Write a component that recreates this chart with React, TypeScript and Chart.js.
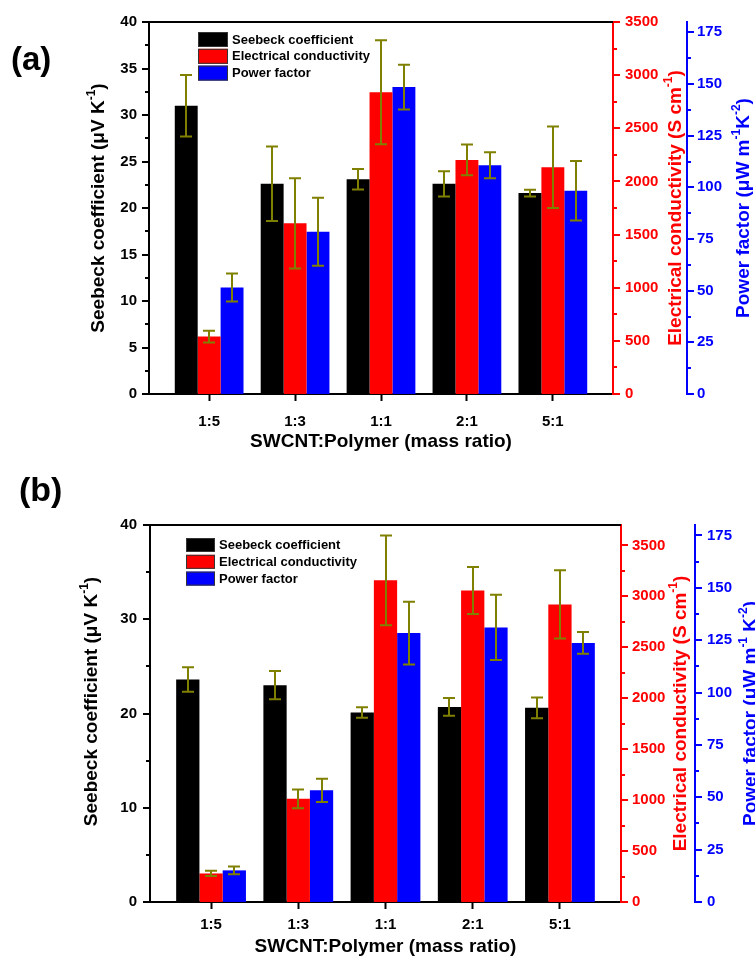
import React, { useEffect, useRef } from "react";
import { Chart, registerables } from "chart.js";

Chart.register(...registerables);

// ---------- data ----------
const categories = ["1:5", "1:3", "1:1", "2:1", "5:1"];
const seriesLabels = ["Seebeck coefficient", "Electrical conductivity", "Power factor"];

// panel (a)
const seebeckA = [31.0, 22.6, 23.1, 22.6, 21.6];
const seebeckErrA = [3.3, 4.0, 1.1, 1.35, 0.35];
const conductivityA = [540, 1606, 2839, 2202, 2133];
const conductivityErrA = [55, 425, 490, 145, 383];
const powerFactorA = [51.5, 78.5, 148.5, 110.7, 98.4];
const powerFactorErrA = [6.8, 16.4, 10.8, 6.3, 14.4];

// panel (b)
const seebeckB = [23.6, 23.0, 20.1, 20.7, 20.6];
const seebeckErrB = [1.3, 1.5, 0.55, 0.95, 1.1];
const conductivityB = [280, 1013, 3157, 3057, 2920];
const conductivityErrB = [26, 92, 440, 230, 335];
const powerFactorB = [15.1, 53.3, 128.4, 131.1, 123.7];
const powerFactorErrB = [1.9, 5.6, 15.0, 15.6, 5.2];

// axis ranges / tick steps
const seebeckAxisA = { max: 40, step: 2.5, labelEvery: 5 };
const seebeckAxisB = { max: 40, step: 5, labelEvery: 10 };
const condAxisA = { max: 3500, step: 250, labelEvery: 500 };
const condAxisB = { max: 3700, step: 250, labelEvery: 500 };
const pfAxis = { max: 180, step: 12.5, labelEvery: 25 };

const xTitle = "SWCNT:Polymer (mass ratio)";

// ---------- styles ----------
const FONT = '"Liberation Sans", Arial, Helvetica, sans-serif';
const BLACK = "#000000";
const RED = "#ff0000";
const BLUE = "#0000ff";
const ERR = "#808000";
const TITLE_SIZE = 19;
const TICK_SIZE = 15;
const LEGEND_SIZE = 13;

type Seg = { t: string; sup?: boolean };
type AxisSpec = { max: number; step: number; labelEvery: number };

type PanelSpec = {
  seebeck: number[]; seebeckErr: number[];
  cond: number[]; condErr: number[];
  pf: number[]; pfErr: number[];
  leftAxis: AxisSpec; redAxis: AxisSpec; blueAxis: AxisSpec;
  w: number; h: number;
  padTop: number; leftW: number; redW: number; blueW: number; xAxisH: number;
  xTickPad: number; xTitlePad: number;
  leftPad: number; redPad: number; bluePad: number;
  leftTitleX: number; leftTitleDy: number; redTitleX: number; blueTitleX: number;
  blueTitle: Seg[];
  legend: { x: number; y: number; bw: number; bh: number; pitch: number; tx: number };
};

const leftTitle: Seg[] = [{ t: "Seebeck coefficient (\u03bcV K" }, { t: "-1", sup: true }, { t: ")" }];
const redTitle: Seg[] = [{ t: "Electrical conductivity (S cm" }, { t: "-1", sup: true }, { t: ")" }];
const blueTitleA: Seg[] = [{ t: "Power factor (\u03bcW m" }, { t: "-1", sup: true }, { t: "K" }, { t: "-2", sup: true }, { t: ")" }];
const blueTitleB: Seg[] = [{ t: "Power factor (\u03bcW m" }, { t: "-1", sup: true }, { t: " K" }, { t: "-2", sup: true }, { t: ")" }];

const panelA: PanelSpec = {
  seebeck: seebeckA, seebeckErr: seebeckErrA,
  cond: conductivityA, condErr: conductivityErrA,
  pf: powerFactorA, pfErr: powerFactorErrA,
  leftAxis: seebeckAxisA, redAxis: condAxisA, blueAxis: pfAxis,
  w: 755, h: 460,
  padTop: 22, leftW: 149, redW: 74, blueW: 68, xAxisH: 66,
  xTickPad: 12, xTitlePad: 7,
  leftPad: 12, redPad: 12, bluePad: 10,
  leftTitleX: 99, leftTitleDy: 0, redTitleX: 676, blueTitleX: 744,
  blueTitle: blueTitleA,
  legend: { x: 198, y: 32, bw: 30, bh: 15, pitch: 16.8, tx: 232 },
};

const panelB: PanelSpec = {
  seebeck: seebeckB, seebeckErr: seebeckErrB,
  cond: conductivityB, condErr: conductivityErrB,
  pf: powerFactorB, pfErr: powerFactorErrB,
  leftAxis: seebeckAxisB, redAxis: condAxisB, blueAxis: pfAxis,
  w: 775, h: 500,
  padTop: 55, leftW: 150, redW: 74, blueW: 80, xAxisH: 68,
  xTickPad: 7, xTitlePad: 12,
  leftPad: 13, redPad: 11, bluePad: 12,
  leftTitleX: 92, leftTitleDy: -12, redTitleX: 681, blueTitleX: 751,
  blueTitle: blueTitleB,
  legend: { x: 186, y: 68, bw: 29, bh: 14, pitch: 16.8, tx: 219 },
};

function labelCb(every: number) {
  return (v: number | string) => {
    const n = Number(v);
    return Math.abs(n / every - Math.round(n / every)) < 1e-6 ? String(Math.round(n)) : "";
  };
}

function drawRich(ctx: CanvasRenderingContext2D, segs: Seg[], cx: number, cy: number, size: number, color: string) {
  const base = `bold ${size}px ${FONT}`;
  const sup = `bold ${Math.round(size * 0.62)}px ${FONT}`;
  let total = 0;
  const widths = segs.map((s) => {
    ctx.font = s.sup ? sup : base;
    const w = ctx.measureText(s.t).width;
    total += w;
    return w;
  });
  ctx.save();
  ctx.translate(cx, cy);
  ctx.rotate(-Math.PI / 2);
  ctx.fillStyle = color;
  ctx.textBaseline = "middle";
  ctx.textAlign = "left";
  let x = -total / 2;
  segs.forEach((s, i) => {
    ctx.font = s.sup ? sup : base;
    ctx.fillText(s.t, x, s.sup ? -size * 0.36 : 0);
    x += widths[i];
  });
  ctx.restore();
}

function makeChart(canvas: HTMLCanvasElement, p: PanelSpec) {
  const pts = (vals: number[]) => vals.map((v, i) => ({ x: i + 1, y: v }));
  const tickFont = { family: FONT, size: TICK_SIZE, weight: "bold" as const };

  const errorBars = {
    id: "errorBars",
    afterDatasetsDraw(chart: any) {
      const ctx = chart.ctx as CanvasRenderingContext2D;
      ctx.save();
      ctx.strokeStyle = ERR;
      ctx.lineWidth = 2;
      chart.data.datasets.forEach((ds: any, i: number) => {
        const meta = chart.getDatasetMeta(i);
        const ys = chart.scales[ds.yAxisID];
        meta.data.forEach((el: any, j: number) => {
          const v = ds.data[j].y;
          const e = ds.errors[j];
          const x = Math.round(el.x);
          const yt = ys.getPixelForValue(v + e);
          const yb = ys.getPixelForValue(v - e);
          ctx.beginPath();
          ctx.moveTo(x, yt);
          ctx.lineTo(x, yb);
          ctx.moveTo(x - 6, yt);
          ctx.lineTo(x + 6, yt);
          ctx.moveTo(x - 6, yb);
          ctx.lineTo(x + 6, yb);
          ctx.stroke();
        });
      });
      ctx.restore();
    },
  };

  const decorations = {
    id: "decorations",
    afterDraw(chart: any) {
      const ctx = chart.ctx as CanvasRenderingContext2D;
      const area = chart.chartArea;
      // top frame line
      ctx.save();
      ctx.strokeStyle = BLACK;
      ctx.lineWidth = 2;
      ctx.beginPath();
      ctx.moveTo(area.left, area.top);
      ctx.lineTo(area.right, area.top);
      ctx.stroke();
      ctx.restore();
      // y tick marks (major long, minor short)
      ["y", "y1", "y2"].forEach((id) => {
        const s = chart.scales[id];
        if (!s) return;
        const left = s.position === "left";
        const x0 = left ? s.right : s.left;
        const dir = left ? -1 : 1;
        ctx.save();
        ctx.strokeStyle = s.options.border.color;
        ctx.lineWidth = 2;
        s.ticks.forEach((t: any) => {
          const y = Math.round(s.getPixelForValue(t.value));
          const len = t.label === "" ? 4 : 7;
          ctx.beginPath();
          ctx.moveTo(x0, y);
          ctx.lineTo(x0 + dir * len, y);
          ctx.stroke();
        });
        ctx.restore();
      });
      // vertical axis titles
      const cy = (area.top + area.bottom) / 2;
      drawRich(ctx, leftTitle, p.leftTitleX, cy + p.leftTitleDy, TITLE_SIZE, BLACK);
      drawRich(ctx, redTitle, p.redTitleX, cy, TITLE_SIZE, RED);
      drawRich(ctx, p.blueTitle, p.blueTitleX, cy, TITLE_SIZE, BLUE);
      // legend
      const L = p.legend;
      ctx.save();
      ctx.font = `bold ${LEGEND_SIZE}px ${FONT}`;
      ctx.textBaseline = "middle";
      ctx.textAlign = "left";
      chart.data.datasets.forEach((ds: any, i: number) => {
        const y = L.y + i * L.pitch;
        ctx.fillStyle = ds.backgroundColor;
        ctx.fillRect(L.x, y, L.bw, L.bh);
        ctx.strokeStyle = "#333333";
        ctx.lineWidth = 1;
        ctx.strokeRect(L.x + 0.5, y + 0.5, L.bw - 1, L.bh - 1);
        ctx.fillStyle = BLACK;
        ctx.fillText(ds.label, L.tx, y + L.bh / 2 + 0.5);
      });
      ctx.restore();
    },
  };

  const yScale = (axis: AxisSpec, position: string, color: string, width: number, pad: number, weight: number) => ({
    type: "linear",
    position,
    weight,
    min: 0,
    max: axis.max,
    afterFit: (s: any) => { s.width = width; },
    afterBuildTicks: (s: any) => {
      const t: { value: number }[] = [];
      const n = Math.floor(axis.max / axis.step + 1e-9);
      for (let k = 0; k <= n; k++) t.push({ value: Math.round(k * axis.step * 1000) / 1000 });
      s.ticks = t;
    },
    ticks: {
      stepSize: axis.step,
      autoSkip: false,
      callback: labelCb(axis.labelEvery),
      color,
      font: tickFont,
      padding: pad,
    },
    grid: { display: false, drawOnChartArea: false, drawTicks: false, tickLength: 0 },
    border: { display: true, color, width: 2 },
    title: { display: false },
  });

  return new Chart(canvas, {
    type: "bar",
    data: {
      datasets: [
        { label: seriesLabels[0], data: pts(p.seebeck), errors: p.seebeckErr, backgroundColor: BLACK, yAxisID: "y" } as any,
        { label: seriesLabels[1], data: pts(p.cond), errors: p.condErr, backgroundColor: RED, yAxisID: "y1" } as any,
        { label: seriesLabels[2], data: pts(p.pf), errors: p.pfErr, backgroundColor: BLUE, yAxisID: "y2" } as any,
      ],
    },
    options: {
      responsive: false,
      animation: false,
      devicePixelRatio: 1,
      layout: { padding: { top: p.padTop, left: 0, right: 0, bottom: 0 } },
      datasets: { bar: { categoryPercentage: 0.8, barPercentage: 1.0, borderWidth: 0 } },
      plugins: { legend: { display: false }, tooltip: { enabled: false } },
      scales: {
        x: {
          type: "linear",
          min: 0.3,
          max: 5.7,
          offset: false,
          z: 1,
          afterFit: (s: any) => { s.height = p.xAxisH; },
          afterBuildTicks: (s: any) => {
            s.ticks = categories.map((_, i) => ({ value: i + 1 }));
          },
          ticks: {
            stepSize: 1,
            autoSkip: false,
            maxRotation: 0,
            callback: (v: number | string) => categories[Math.round(Number(v)) - 1] ?? "",
            color: BLACK,
            font: tickFont,
            padding: p.xTickPad,
          },
          grid: { display: true, drawOnChartArea: false, drawTicks: true, tickLength: 7, tickWidth: 2, tickColor: BLACK, offset: false },
          border: { display: true, color: BLACK, width: 2 },
          title: {
            display: true,
            text: xTitle,
            color: BLACK,
            font: { family: FONT, size: TITLE_SIZE, weight: "bold" },
            padding: { top: 0, bottom: p.xTitlePad },
          },
        },
        y: yScale(p.leftAxis, "left", BLACK, p.leftW, p.leftPad, 0),
        y1: yScale(p.redAxis, "right", RED, p.redW, p.redPad, 0),
        y2: yScale(p.blueAxis, "right", BLUE, p.blueW, p.bluePad, 1),
      } as any,
    } as any,
    plugins: [errorBars, decorations],
  } as any);
}

function Panel({ spec, top }: { spec: PanelSpec; top: number }) {
  const ref = useRef<HTMLCanvasElement | null>(null);
  useEffect(() => {
    if (!ref.current) return;
    const chart = makeChart(ref.current, spec);
    return () => chart.destroy();
  }, [spec]);
  return (
    <canvas
      ref={ref}
      width={spec.w}
      height={spec.h}
      style={{ position: "absolute", left: 0, top, width: spec.w, height: spec.h, display: "block" }}
    />
  );
}

export default function App() {
  const labelStyle: React.CSSProperties = {
    position: "absolute",
    fontFamily: FONT,
    fontWeight: "bold",
    color: BLACK,
    whiteSpace: "nowrap",
  };
  return (
    <div
      style={{
        position: "absolute",
        left: 0,
        top: 0,
        width: 755,
        height: 956,
        overflow: "hidden",
        background: "#ffffff",
      }}
    >
      <Panel spec={panelA} top={0} />
      <Panel spec={panelB} top={470} />
      <div style={{ ...labelStyle, left: 11, top: 42, fontSize: 33, lineHeight: "33px" }}>(a)</div>
      <div style={{ ...labelStyle, left: 19, top: 472, fontSize: 34, lineHeight: "34px" }}>(b)</div>
    </div>
  );
}
